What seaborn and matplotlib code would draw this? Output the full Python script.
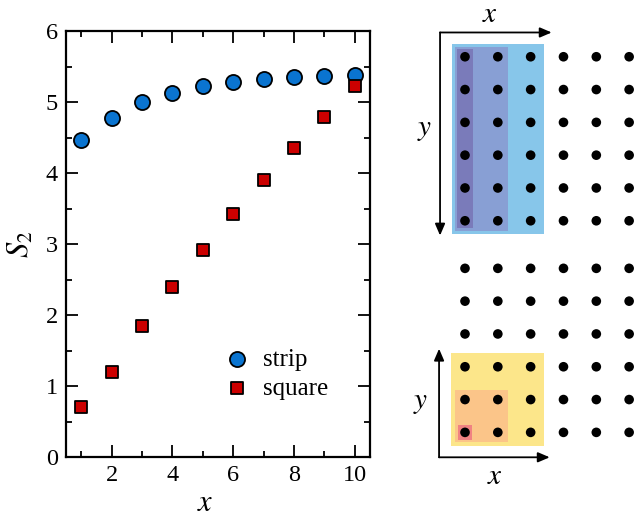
# ======================================================
# S2 vs x  +  lattice sketch
# ======================================================

import numpy as np
import pandas as pd

import matplotlib.pyplot as plt
from matplotlib.patches import Rectangle
import seaborn as sns

sns.set_style("ticks")
plt.rcParams["font.family"] = ["Liberation Serif", "DejaVu Serif"]
plt.rcParams["mathtext.fontset"] = "stix"
plt.rcParams["text.color"] = "black"
plt.rcParams["axes.labelcolor"] = "black"
plt.rcParams["xtick.color"] = "black"
plt.rcParams["ytick.color"] = "black"

# ======================================================
# Data
# ======================================================

x_vals = [1, 2, 3, 4, 5, 6, 7, 8, 9, 10]
strip_vals = [4.47, 4.77, 5.00, 5.13, 5.22, 5.28, 5.32, 5.35, 5.37, 5.38]
square_vals = [0.70, 1.20, 1.84, 2.39, 2.92, 3.42, 3.90, 4.35, 4.79, 5.22]

# lattice sketch: dot columns / rows (top block and bottom block)
lat_cols = [0, 1, 2, 3, 4, 5]
top_rows = [0, 1, 2, 3, 4, 5]
bot_rows = [6.45, 7.45, 8.45, 9.45, 10.45, 11.45]

df = pd.DataFrame({
    "x": x_vals * 2,
    "S2": strip_vals + square_vals,
    "geom": ["strip"] * 10 + ["square"] * 10,
})

# ======================================================
# Figure
# ======================================================

fig = plt.figure(figsize=(6.38, 5.17), dpi=100)
ax = fig.add_axes([66/638, 60/517, 304/638, 426/517])

sns.scatterplot(data=df[df.geom == "strip"], x="x", y="S2", ax=ax,
                marker="o", s=118, color="#0a74d0", edgecolor="black",
                linewidth=1.3, label="strip", zorder=3)
sns.scatterplot(data=df[df.geom == "square"], x="x", y="S2", ax=ax,
                marker="s", s=82, color="#cc0000", edgecolor="black",
                linewidth=1.3, label="square", zorder=3)

ax.set_xlim(0.5, 10.5)
ax.set_ylim(0, 6)
ax.set_xticks([2, 4, 6, 8, 10])
ax.set_xticks(x_vals, minor=True)
ax.set_yticks(range(0, 7))
ax.set_yticks(np.arange(0.5, 6, 1.0), minor=True)

ax.tick_params(which="both", direction="in", top=True, right=True,
               width=1.3, labelsize=17.5, color="black")
ax.tick_params(which="major", length=8.5, pad=6)
ax.tick_params(which="minor", length=4.5)
for sp in ax.spines.values():
    sp.set_linewidth(1.6)
    sp.set_color("black")

ax.set_xlabel("$x$", fontsize=22)
ax.set_ylabel("$S_2$", fontsize=22)
ax.xaxis.set_label_coords(0.457, -0.075)
ax.yaxis.set_label_coords(-0.1, 0.5)

ax.legend(loc="upper left", bbox_to_anchor=(0.52, 0.255), frameon=False,
          fontsize=18, borderpad=0, borderaxespad=0, handlelength=1.0,
          handletextpad=0.55, labelspacing=0.25)

# ======================================================
# Lattice sketch
# ======================================================

ax2 = fig.add_axes([400/638, 0, 238/638, 1])
ax2.set_xlim(-1.98, 5.27)
ax2.set_ylim(14.03, -1.73)
ax2.axis("off")

# strip regions (top block)
top_boxes = [(2, 0.40, "#87c6ea"), (1, 0.30, "#889fd4"), (0, 0.23, "#7a7bba")]
for c, pad, col in top_boxes:
    ax2.add_patch(Rectangle((-pad, -pad), c + 2 * pad, 5 + 2 * pad,
                            facecolor=col, edgecolor="none", zorder=1))

# square regions (bottom block)
bot_boxes = [(2, 0.42, "#fce68a"), (1, 0.30, "#fbc589"), (0, 0.22, "#f08282")]
for c, pad, col in bot_boxes:
    ax2.add_patch(Rectangle((-pad, bot_rows[-1] - c - pad), c + 2 * pad,
                            c + 2 * pad, facecolor=col, edgecolor="none",
                            zorder=1))

cc, rr = np.meshgrid(lat_cols, top_rows + bot_rows)
sns.scatterplot(x=cc.ravel(), y=rr.ravel(), ax=ax2, color="black", s=48,
                edgecolor="none", zorder=3, legend=False)

arrow = dict(arrowstyle="-|>,head_length=0.7,head_width=0.3",
             color="black", lw=1.3, shrinkA=0, shrinkB=0)
# top arrows
ax2.annotate("", xy=(2.64, -0.74), xytext=(-0.76, -0.74), arrowprops=arrow)
ax2.annotate("", xy=(-0.76, 5.45), xytext=(-0.76, -0.74), arrowprops=arrow)
ax2.text(0.76, -1.27, "$x$", fontsize=21, ha="center", va="center")
ax2.text(-1.22, 2.23, "$y$", fontsize=21, ha="center", va="center")
# bottom arrows
ax2.annotate("", xy=(-0.79, 8.9), xytext=(-0.79, 12.21), arrowprops=arrow)
ax2.annotate("", xy=(2.58, 12.21), xytext=(-0.79, 12.21), arrowprops=arrow)
ax2.text(0.91, 12.8, "$x$", fontsize=21, ha="center", va="center")
ax2.text(-1.35, 10.57, "$y$", fontsize=21, ha="center", va="center")

plt.savefig("out.png", dpi=100)
